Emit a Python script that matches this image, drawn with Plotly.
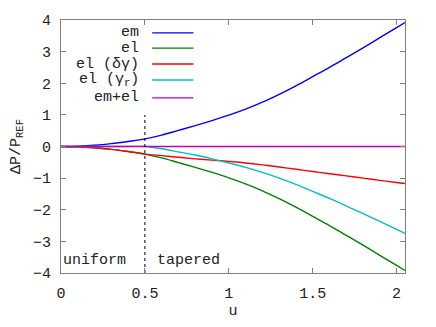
import plotly.graph_objects as go

u = [0, 0.1, 0.2, 0.3, 0.4, 0.5, 0.6, 0.7, 0.8, 0.9, 1.0, 1.1, 1.2, 1.3,
     1.4, 1.5, 1.6, 1.7, 1.8, 1.9, 2.0, 2.05]
em = [0, 0.01, 0.04, 0.09, 0.16, 0.24, 0.36, 0.51, 0.66, 0.82, 0.99, 1.18,
      1.40, 1.65, 1.92, 2.21, 2.50, 2.81, 3.12, 3.44, 3.76, 3.92]
el = [0, -0.01, -0.04, -0.09, -0.16, -0.24, -0.36, -0.51, -0.66, -0.82, -0.99,
      -1.18, -1.40, -1.65, -1.92, -2.21, -2.50, -2.81, -3.12, -3.44, -3.76, -3.92]
el_dg = [0, -0.01, -0.04, -0.09, -0.16, -0.24, -0.29, -0.34, -0.39, -0.43, -0.47,
         -0.52, -0.58, -0.65, -0.72, -0.79, -0.86, -0.93, -1.00, -1.07, -1.14, -1.17]
el_gr = [0, 0, 0, 0, 0, 0, -0.07, -0.17, -0.27, -0.39, -0.52, -0.66, -0.82,
         -1.00, -1.20, -1.42, -1.64, -1.88, -2.12, -2.37, -2.62, -2.75]
em_el = [0] * len(u)

names = ["em", "el", "el (δγ)", "el (γ<sub>r</sub>)", "em+el"]
series = [em, el, el_dg, el_gr, em_el]
colors = ["#0000ff", "#008000", "#ff0000", "#00c0c0", "#c000c0"]

x_ticks = [0, 0.5, 1, 1.5, 2]
x_tick_labels = ["0", "0.5", "1", "1.5", "2"]
y_ticks = [-4, -3, -2, -1, 0, 1, 2, 3, 4]
boundary_u = 0.5
boundary_top = 1.0

FONT = "Liberation Mono"
TXT = "#222222"

fig = go.Figure()
for n, s, c in zip(names, series, colors):
    fig.add_trace(go.Scatter(x=u, y=s, mode="lines", name=n,
                             line=dict(color=c, width=1.4, shape="spline"),
                             showlegend=False))

# boundary between uniform and tapered
fig.add_trace(go.Scatter(x=[boundary_u, boundary_u], y=[-4, boundary_top], mode="lines",
                         line=dict(color="black", width=1, dash="dot"), showlegend=False))

# gnuplot-style legend (text right-aligned, sample to the right)
row_y = [0.949, 0.889, 0.826, 0.763, 0.692]
for n, c, yy in zip(names, colors, row_y):
    fig.add_annotation(x=0.233, y=yy, xref="paper", yref="paper", text=n,
                       showarrow=False, xanchor="right", yanchor="middle",
                       font=dict(family=FONT, size=15, color=TXT))
    fig.add_shape(type="line", xref="paper", yref="paper", x0=0.265, x1=0.385,
                  y0=yy, y1=yy, line=dict(color=c, width=1.4))

fig.add_annotation(x=0, y=-3.62, text="uniform", showarrow=False, xanchor="left",
                   yanchor="middle", font=dict(family=FONT, size=15, color=TXT))
fig.add_annotation(x=0.56, y=-3.62, text="tapered", showarrow=False, xanchor="left",
                   yanchor="middle", font=dict(family=FONT, size=15, color=TXT))

axis_common = dict(showline=True, linecolor="#808080", linewidth=1, mirror="ticks",
                   ticks="inside", ticklen=5, tickcolor="#808080", showgrid=False,
                   zeroline=False, automargin=False,
                   tickfont=dict(family=FONT, size=15, color=TXT))

fig.update_xaxes(range=[0, 2.05], tickvals=x_ticks, ticktext=x_tick_labels,
                 ticklabelstandoff=6,
                 title=dict(text="u", font=dict(family=FONT, size=15, color=TXT), standoff=2),
                 **axis_common)
fig.update_yaxes(range=[-4, 4], tickvals=y_ticks, ticklabelstandoff=6,
                 title=dict(text="ΔP/P<sub>REF</sub>", font=dict(family=FONT, size=15, color=TXT), standoff=8),
                 **axis_common)

fig.update_layout(width=436, height=327, margin=dict(l=61, r=31, t=20, b=54),
                  paper_bgcolor="white", plot_bgcolor="white")

fig.write_html("out.html", config={"displayModeBar": False},
               post_script="document.body.style.margin='0';document.body.style.padding='0';")
